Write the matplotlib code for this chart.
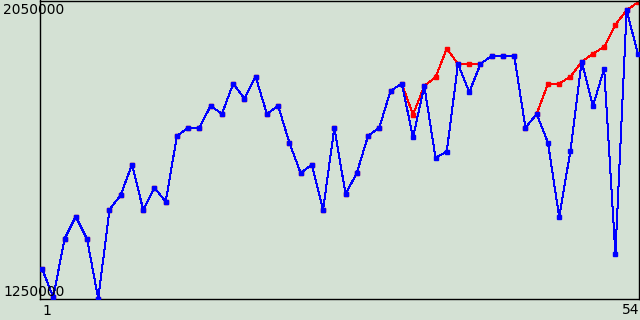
import matplotlib
matplotlib.use("Agg")
import matplotlib.pyplot as plt

# x positions 1..54
xs = list(range(1, 55))

# blue series (actual)
blue = [1331000, 1255000, 1411000, 1471000, 1411000, 1251000, 1489000, 1529000, 1610000, 1489000,
        1548000, 1511000, 1687000, 1709000, 1709000, 1768000, 1746000, 1827000, 1787000, 1846000,
        1746000, 1768000, 1669000, 1588000, 1610000, 1489000, 1709000, 1531000, 1588000, 1687000,
        1709000, 1808000, 1827000, 1683000, 1821000, 1629000, 1645000, 1880000, 1804000, 1880000,
        1902000, 1902000, 1902000, 1709000, 1746000, 1669000, 1470000, 1647000, 1886000, 1767000,
        1867000, 1371000, 2024000, 1907000]

# red series (drawn under the blue one)
red = [1331000, 1255000, 1411000, 1471000, 1411000, 1251000, 1489000, 1529000, 1610000, 1489000,
       1548000, 1511000, 1687000, 1709000, 1709000, 1768000, 1746000, 1827000, 1787000, 1846000,
       1746000, 1768000, 1669000, 1588000, 1610000, 1489000, 1709000, 1531000, 1588000, 1687000,
       1709000, 1808000, 1827000, 1744000, 1821000, 1844000, 1921000, 1880000, 1880000, 1880000,
       1902000, 1902000, 1902000, 1709000, 1746000, 1827000, 1827000, 1846000, 1886000, 1907000,
       1926000, 1985000, 2024000, 2045000]

ymin, ymax = 1250000, 2050000
bg = "#d4e1d4"

fig = plt.figure(figsize=(6.4, 3.2), dpi=100, facecolor=bg)
ax = fig.add_axes([40 / 640, 21 / 320, 599 / 640, 298.5 / 320])
ax.set_facecolor(bg)

ax.plot(xs, red, color="#ff0000", lw=0.72, marker="s", ms=2.6, zorder=2, antialiased=False)
ax.plot(xs, blue, color="#0000ff", lw=0.72, marker="s", ms=2.6, zorder=3, antialiased=False)

ax.set_xlim(0.82, 54.1)
ax.set_ylim(ymin, ymax)
ax.set_xticks([])
ax.set_yticks([])
for s in ax.spines.values():
    s.set_color("black")
    s.set_linewidth(1.0)

fig.text(3 / 640, 1 - 10 / 320, str(ymax), ha="left", va="center", fontsize=10, zorder=5)
fig.text(3 / 640, 1 - 292 / 320, str(ymin), ha="left", va="center", fontsize=10, zorder=5)
fig.text(47 / 640, 1 - 311 / 320, str(xs[0]), ha="center", va="center", fontsize=10)
fig.text(631 / 640, 1 - 310 / 320, str(xs[-1]), ha="center", va="center", fontsize=10)

fig.savefig("out.png", dpi=100, facecolor=bg)
